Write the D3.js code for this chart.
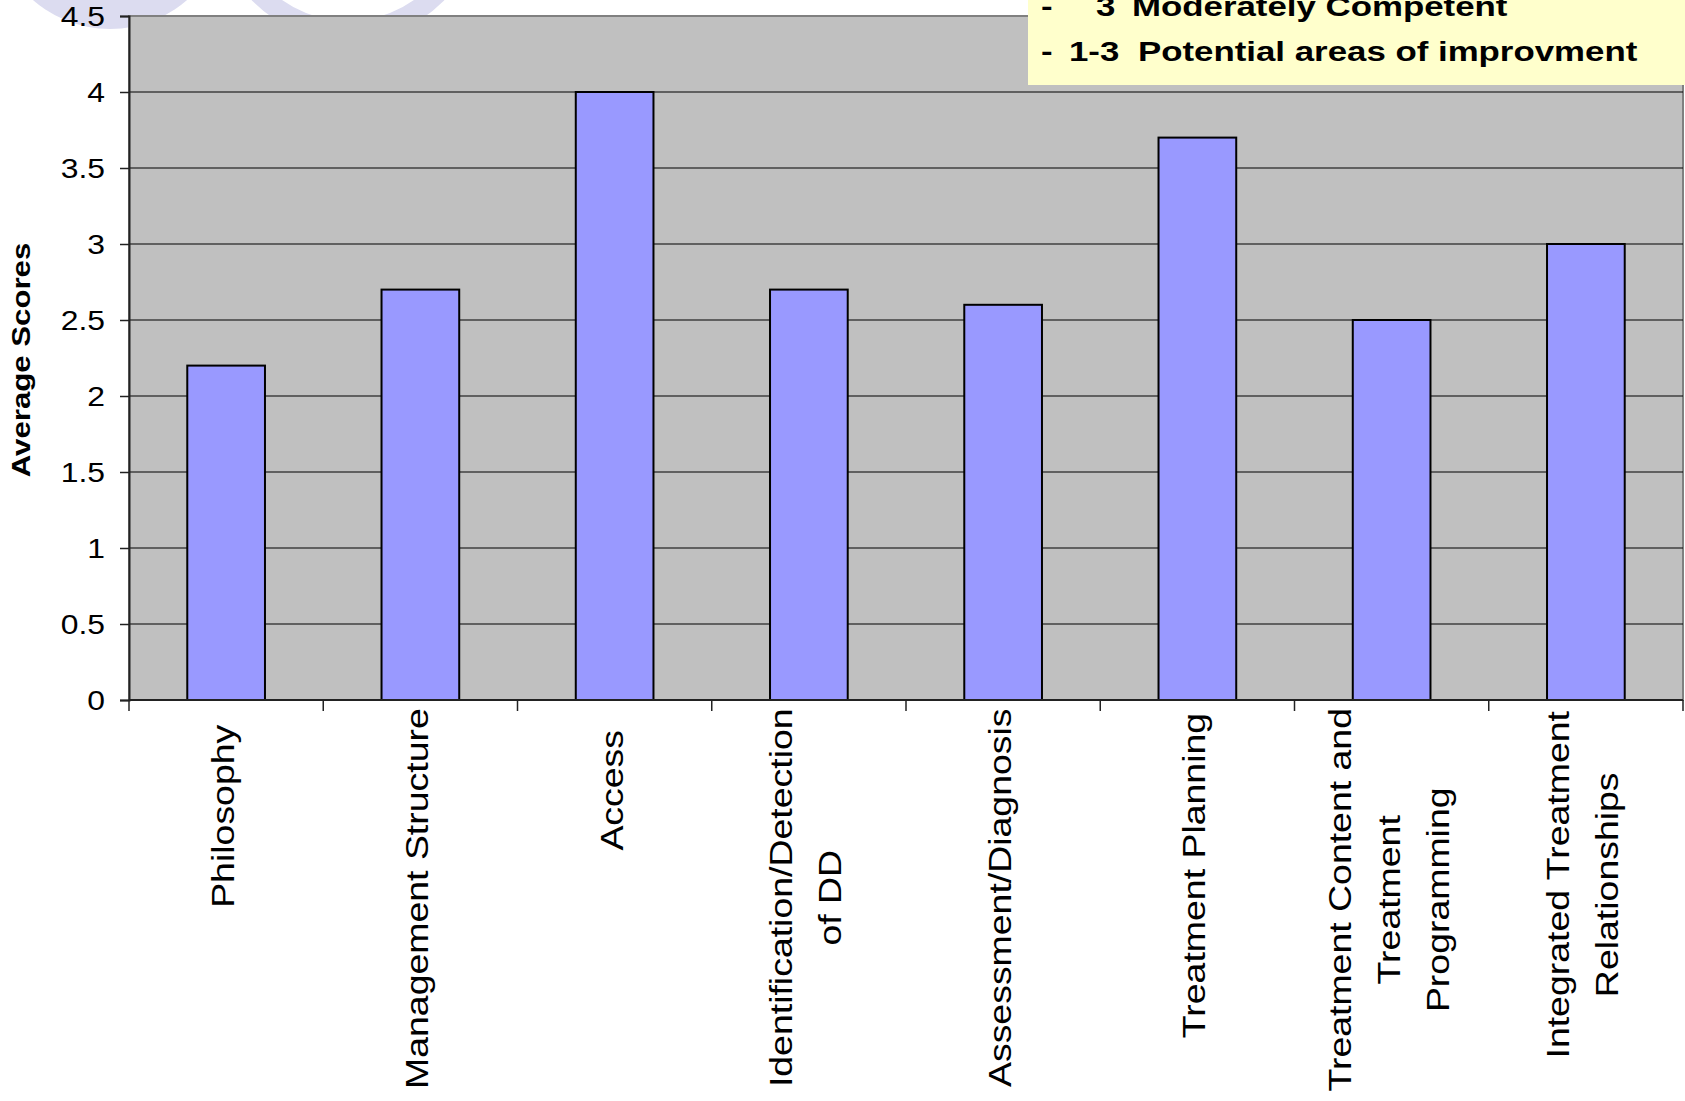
<!DOCTYPE html>
<html><head><meta charset="utf-8">
<script src="https://cdn.jsdelivr.net/npm/d3@7"></script>
<style>
html,body{margin:0;padding:0;background:#fff;overflow:hidden;}
svg{display:block;font-family:"Liberation Sans",Arial,sans-serif;}
</style></head>
<body>
<svg id="chart" width="1685" height="1101"></svg>
<script>
// ---- data ----
const categories = ["Philosophy","Management Structure","Access","Identification/Detection\nof DD","Assessment/Diagnosis","Treatment Planning","Treatment Content and\nTreatment\nProgramming","Integrated Treatment\nRelationships"];
const scores = [2.2, 2.7, 4.0, 2.7, 2.6, 3.7, 2.5, 3.0];
const yTicks = [0, 0.5, 1, 1.5, 2, 2.5, 3, 3.5, 4, 4.5];
const yTitle = "Average Scores";
const noteLines = [["-", "3", "Moderately Competent"], ["-", "1-3", "Potential areas of improvment"]];

const svg = d3.select("#chart");
const L = 129, R = 1683, T = 16, B = 700;

// decorative slide background shapes
svg.append("circle").attr("cx", 110).attr("cy", -88).attr("r", 117).attr("fill", "#dcdcf0");
svg.append("circle").attr("cx", 348).attr("cy", -93).attr("r", 124).attr("fill", "none")
   .attr("stroke", "#dcdcf0").attr("stroke-width", 20);

const x = d3.scaleBand().domain(categories).range([L, R]).paddingInner(0.6).paddingOuter(0.3);
const y = d3.scaleLinear().domain([0, 4.5]).range([B, T]);

// plot area
svg.append("rect").attr("x", L).attr("y", T).attr("width", R - L).attr("height", B - T)
   .attr("fill", "#c0c0c0").attr("stroke", "#808080").attr("stroke-width", 2);

// gridlines
svg.append("g").selectAll("line").data(yTicks.filter(d => d > 0 && d < 4.5)).join("line")
   .attr("x1", L).attr("x2", R).attr("y1", d => y(d)).attr("y2", d => y(d))
   .attr("stroke", "#000").attr("stroke-width", 1.2);

// bars
svg.append("g").selectAll("rect").data(scores).join("rect")
   .attr("x", (d, i) => x(categories[i])).attr("width", x.bandwidth())
   .attr("y", d => y(d)).attr("height", d => y(0) - y(d))
   .attr("fill", "#9999ff").attr("stroke", "#000").attr("stroke-width", 2);

// y axis
const yAxis = svg.append("g").attr("transform", `translate(${L},0)`)
   .call(d3.axisLeft(y).tickValues(yTicks).tickSize(9).tickFormat(d => String(d)));
yAxis.select(".domain").attr("stroke", "#222").attr("stroke-width", 2);
yAxis.selectAll(".tick line").attr("stroke", "#222").attr("stroke-width", 1.5);
yAxis.selectAll(".tick text").attr("x", 0).attr("dy", null)
   .attr("transform", "translate(-24,9.5) scale(1.18,1)")
   .attr("font-size", 27).attr("fill", "#000").attr("font-family", "Liberation Sans, Arial, sans-serif");

// x axis line and boundary ticks
const step = x.step();
const bounds = d3.range(categories.length + 1).map(i => x.range()[0] + i * step);
svg.append("line").attr("x1", L).attr("x2", R).attr("y1", B).attr("y2", B).attr("stroke", "#222").attr("stroke-width", 2);
svg.append("g").selectAll("line").data(bounds).join("line")
   .attr("x1", d => d).attr("x2", d => d).attr("y1", B).attr("y2", B + 11)
   .attr("stroke", "#222").attr("stroke-width", 1.5);

// category labels (rotated, stretched)
const labTop = 740, sx = 1.2, lineGap = 49, fs = 31.2;
categories.forEach(c => {
  const lines = c.split("\n");
  const cx = x(c) + x.bandwidth() / 2;
  const g = svg.append("g");
  const texts = lines.map(t => g.append("text").text(t).attr("font-size", fs).attr("text-anchor", "middle").attr("fill", "#000"));
  const maxLen = d3.max(texts, t => t.node().getComputedTextLength());
  const cy = labTop + maxLen / 2;
  texts.forEach((t, i) => {
    const dx = (i - (lines.length - 1) / 2) * lineGap + 8;
    t.attr("transform", `translate(${cx + dx},${cy}) rotate(-90) scale(${sx},1)`);
  });
});

// y title
svg.append("text").text(yTitle).attr("font-size", 26).attr("font-weight", "bold")
   .attr("text-anchor", "middle").attr("transform", "translate(29.5,360) rotate(-90) scale(1.2,1)");

// note box
svg.append("rect").attr("x", 1028).attr("y", -10).attr("width", 700).attr("height", 95).attr("fill", "#ffffcc");
const notePos = [[1041, 1096, 1132], [1041, 1069, 1138]];
const noteBase = [16, 61];
noteLines.forEach((ln, j) => {
  ln.forEach((s, k) => {
    svg.append("text").text(s).attr("font-size", 27).attr("font-weight", "bold").attr("fill", "#000")
       .attr("transform", `translate(${notePos[j][k]},${noteBase[j]}) scale(1.29,1)`);
  });
});
</script>
</body></html>
